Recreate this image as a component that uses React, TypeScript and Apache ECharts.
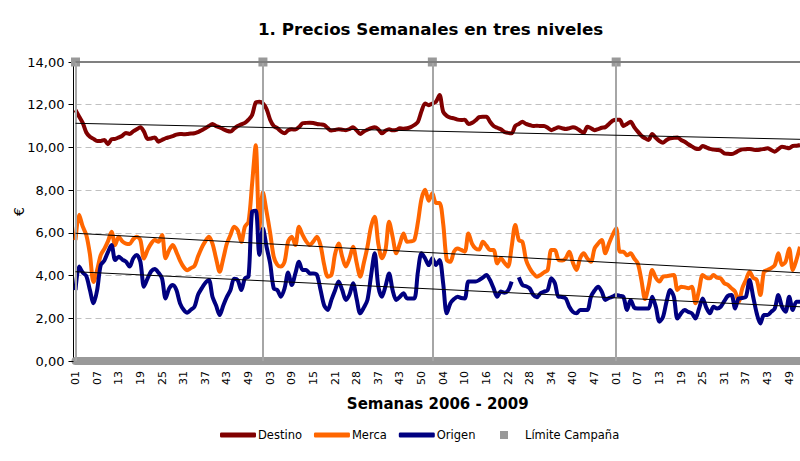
import React, { useEffect, useRef } from "react";
import * as echarts from "echarts";

// ---- Weeks present in each year (some weeks missing in 2007/2008) ----
const weeks2006 = [1,2,3,4,5,6,7,8,9,10,11,12,13,14,15,16,17,18,19,20,21,22,23,24,25,26,27,28,29,30,31,32,33,34,35,36,37,38,39,40,41,42,43,44,45,46,47,48,49,50,51,52];
const weeks2007 = [1,2,3,4,5,6,7,8,9,10,11,12,13,14,15,16,17,18,19,20,21,23,24,25,26,27,28,29,30,31,35,36,37,38,39,40,41,42,43,44,45,46,48,49,50,51,52];
const weeks2008 = [1,2,3,4,5,6,7,8,9,10,11,12,13,14,15,16,17,18,19,20,21,22,23,24,25,26,27,28,29,30,31,32,33,34,35,36,37,38,39,40,41,42,43,45,46,47,48,49,50,51,52];
const weeks2009 = [1,2,3,4,5,6,7,8,9,10,11,12,13,14,15,16,17,18,19,20,21,22,23,24,25,26,27,28,29,30,31,32,33,34,35,36,37,38,39,40,41,42,43,44,45,46,47,48,49,50,51,52];
const years = [2006, 2007, 2008, 2009];
const campaignLimits = ["2006-01", "2007-01", "2008-01", "2009-01"];
const limitValue = 14;

const destino = [
  11.75, 11.45, 11.15, 10.7, 10.5, 10.4, 10.3, 10.3, 10.35, 10.15,
  10.38, 10.4, 10.47, 10.55, 10.68, 10.63, 10.75, 10.85, 10.94, 10.74,
  10.4, 10.42, 10.47, 10.27, 10.35, 10.43, 10.48, 10.53, 10.6, 10.63,
  10.62, 10.63, 10.65, 10.66, 10.72, 10.8, 10.9, 11.0, 11.1, 11.0,
  10.94, 10.85, 10.78, 10.74, 10.88, 11.0, 11.08, 11.15, 11.3, 11.52,
  12.1, 12.14, 12.06, 11.8, 11.3, 11.0, 10.9, 10.75, 10.66, 10.8,
  10.85, 10.84, 10.95, 11.13, 11.15, 11.16, 11.14, 11.1, 11.08, 11.05,
  10.9, 10.79, 10.82, 10.85, 10.83, 10.81, 10.86, 10.94, 10.8, 10.63,
  10.75, 10.83, 10.9, 10.94, 10.85, 10.66, 10.78, 10.85, 10.8, 10.82,
  10.9, 10.88, 10.9, 10.95, 11.05, 11.2, 11.7, 12.06, 11.98, 12.05,
  12.14, 12.45, 11.67, 11.48, 11.4, 11.36, 11.3, 11.28, 11.3, 11.1,
  11.15, 11.27, 11.42, 11.44, 11.44, 11.2, 11.0, 10.92, 10.85, 10.72,
  10.68, 10.66, 11.0, 11.1, 11.2, 11.1, 11.05, 11.0, 11.02, 11.0,
  11.0, 10.92, 10.81, 10.88, 10.94, 10.9, 10.86, 10.9, 10.94, 10.9,
  10.78, 10.69, 10.97, 10.9, 10.81, 10.86, 10.92, 10.95, 11.1, 11.25,
  11.3, 11.3, 11.0, 11.1, 11.2, 10.95, 10.74, 10.55, 10.43, 10.35,
  10.63, 10.45, 10.3, 10.22, 10.35, 10.43, 10.45, 10.47, 10.35, 10.27,
  10.15, 10.05, 9.95, 9.93, 10.07, 10.0, 9.93, 9.9, 9.88, 9.85,
  9.72, 9.7, 9.69, 9.75, 9.85, 9.91, 9.92, 9.93, 9.9, 9.88,
  9.9, 9.93, 9.96, 9.88, 9.8, 9.92, 10.03, 10.0, 9.96, 10.07,
  10.08, 10.11,
];

const merca = [
  5.66, 6.85, 6.3, 5.9, 5.0, 3.7, 4.26, 4.96, 5.25, 5.6,
  6.05, 5.43, 5.82, 5.6, 5.5, 5.48, 5.7, 5.82, 5.66, 4.8,
  5.2, 5.5, 5.66, 5.58, 5.9, 4.81, 5.2, 5.43, 5.1, 4.7,
  4.4, 4.25, 4.35, 4.45, 4.9, 5.3, 5.6, 5.82, 5.5, 4.8,
  4.18, 4.8, 5.5, 5.9, 6.29, 6.13, 5.58, 6.29, 6.52, 8.3,
  10.1, 6.2, 7.9, 7.0, 6.0, 4.88, 4.5, 4.42, 4.65, 5.6,
  5.82, 5.43, 6.29, 5.9, 5.6, 5.43, 5.6, 5.82, 5.4, 4.5,
  3.95, 4.03, 5.0, 5.5, 4.88, 4.42, 4.8, 5.35, 4.6, 3.95,
  4.6, 5.35, 6.3, 6.76, 5.5, 4.81, 5.2, 6.52, 5.8, 5.04,
  5.5, 5.97, 5.58, 5.6, 5.66, 6.5, 7.6, 8.02, 7.5, 7.85,
  7.4, 7.4, 6.44, 4.73, 4.65, 5.12, 5.27, 5.2, 5.12, 5.97,
  5.5, 5.27, 5.22, 5.58, 5.4, 5.2, 5.2, 4.57, 4.81, 4.6,
  4.42, 5.35, 6.37, 5.66, 5.58, 4.73, 4.34, 4.1, 3.95, 4.03,
  4.15, 4.26, 5.2, 5.2, 4.73, 4.7, 4.81, 5.12, 4.6, 4.26,
  4.81, 5.04, 4.8, 4.65, 5.27, 5.5, 5.66, 5.04, 5.5, 5.9,
  6.21, 5.12, 5.12, 4.95, 5.04, 4.8, 4.57, 3.79, 2.9, 3.5,
  4.26, 3.9, 3.72, 3.95, 3.97, 4.0, 4.03, 3.33, 3.48, 3.45,
  3.41, 3.48, 2.7, 3.33, 4.03, 3.9, 3.87, 4.03, 3.9, 3.87,
  3.64, 3.56, 3.4, 3.25, 2.78, 3.41, 3.79, 4.18, 3.9, 3.79,
  3.09, 4.18, 4.26, 4.35, 4.49, 5.04, 4.49, 4.65, 5.27, 4.26,
  4.73, 5.35,
];

const origen = [
  3.32, 4.42, 4.14, 3.98, 3.32, 2.7, 3.32, 4.49, 4.7, 5.1,
  5.43, 4.73, 4.88, 4.75, 4.65, 4.42, 4.8, 4.96, 4.65, 3.48,
  3.87, 4.2, 4.31, 4.14, 3.87, 2.93, 3.4, 3.56, 3.32, 2.7,
  2.4, 2.26, 2.4, 2.54, 3.1, 3.4, 3.65, 3.79, 3.01, 2.6,
  2.15, 2.6, 3.0, 3.32, 3.85, 3.79, 3.32, 3.87, 3.95, 7.0,
  7.04, 4.96, 6.21, 5.35, 4.57, 3.4, 3.32, 3.01, 3.4, 4.14,
  3.56, 4.1, 4.65, 4.26, 4.26, 4.1, 4.1, 4.03, 3.32, 2.6,
  2.39, 2.86, 3.3, 3.72, 3.32, 2.86, 3.1, 3.64, 2.9, 2.23,
  2.5, 2.86, 4.0, 5.04, 3.5, 3.01, 3.5, 4.1, 3.3, 2.86,
  3.01, 3.17, 2.93, 2.93, 2.93, 4.18, 5.04, 4.8, 4.49, 4.81,
  4.5, 4.73, 3.64, 2.23, 2.7, 2.9, 3.01, 2.95, 2.93, 3.72,
  3.72, 3.72, 3.79, 3.9, 4.03, 3.79, 3.4, 3.01, 3.25, 3.2,
  3.3, 3.72, null, 3.92, 3.56, 3.5, 3.4, 3.1, 2.98, 3.17,
  3.25, 3.32, 3.87, 3.64, 3.01, 3.0, 2.93, 2.54, 2.3, 2.23,
  2.39, 2.39, 2.39, 3.01, 3.3, 3.48, 3.25, 2.86, 2.95, 3.01,
  3.09, 3.05, 3.01, 2.39, 2.86, 2.5, 2.46, 2.46, 2.46, 2.46,
  3.01, 2.54, 1.84, 2.07, 2.8, 3.32, 3.01, 1.99, 2.23, 2.39,
  2.3, 2.23, 1.99, 2.46, 2.93, 2.5, 2.23, 2.54, 2.46, 2.54,
  2.8, 3.05, 3.09, 2.46, 2.93, 2.95, 3.01, 3.79, 3.01, 2.23,
  1.76, 2.15, 2.15, 2.3, 2.46, 3.09, 2.54, 2.31, 3.01, 2.39,
  2.78, 2.78,
];

// Linear trend lines (start, end)
const trendDestino = [11.13, 10.38];
const trendMerca = [5.98, 4.13];
const trendOrigen = [4.18, 2.54];

const yTicks = { min: 0, max: 14, interval: 2 };

const pad = (n: number) => (n < 10 ? "0" + n : String(n));
const categories: string[] = [];
[weeks2006, weeks2007, weeks2008, weeks2009].forEach((ws, yi) => {
  ws.forEach((w) => categories.push(years[yi] + "-" + pad(w)));
});

export default function App() {
  const ref = useRef<HTMLDivElement>(null);
  useEffect(() => {
    if (!ref.current) return;
    const chart = echarts.init(ref.current, null, { renderer: "svg" });
    const last = categories.length - 1;
    const limitIdx = campaignLimits.map((c) => categories.indexOf(c));
    const font = "DejaVu Sans";
    const trend = (t: number[]) => ({
      type: "line",
      data: [[0, t[0]], [last, t[1]]],
      symbol: "none",
      silent: true,
      lineStyle: { color: "#000", width: 1 },
      z: 5,
    });
    chart.setOption({
      animation: false,
      textStyle: { fontFamily: font },
      title: {
        text: "1. Precios Semanales en tres niveles",
        left: 253,
        top: 15,
        padding: 5,
        textStyle: { fontFamily: font, fontSize: 16.7, fontWeight: "bold", color: "#000" },
      },
      legend: [
        {
          data: ["Destino", "Merca", "Origen"],
          left: 220,
          top: 429,
          padding: 0,
          itemWidth: 36,
          itemHeight: 5,
          itemGap: 12,
          icon: "roundRect",
          textStyle: { fontFamily: font, fontSize: 11.5, color: "#000", padding: [0, 0, 0, -3] },
        },
        {
          data: ["Límite Campaña"],
          left: 500,
          top: 429,
          padding: 0,
          itemWidth: 8,
          itemHeight: 8,
          icon: "rect",
          textStyle: { fontFamily: font, fontSize: 11.5, color: "#000", padding: [0, 0, 0, 12] },
        },
      ],
      grid: { left: 75.5, right: 0, top: 62, bottom: 100, outerBoundsMode: "none", containLabel: false },
      xAxis: {
        type: "category",
        data: categories,
        boundaryGap: false,
        name: "Semanas 2006 - 2009",
        nameLocation: "middle",
        nameGap: 35,
        nameMoveOverlap: false,
        nameTextStyle: { fontFamily: font, fontSize: 15, fontWeight: "bold", color: "#000" },
        axisLine: { lineStyle: { color: "#999", width: 8 } },
        axisTick: { show: false },
        axisLabel: {
          interval: 5,
          rotate: 90,
          margin: 10,
          fontSize: 11,
          color: "#000",
          fontFamily: font,
          formatter: (v: string) => v.slice(5),
        },
        splitLine: { show: false },
      },
      yAxis: {
        type: "value",
        min: yTicks.min,
        max: yTicks.max,
        interval: yTicks.interval,
        offset: 2,
        name: "€",
        nameLocation: "middle",
        nameGap: 48,
        nameMoveOverlap: false,
        nameTextStyle: { fontFamily: font, fontSize: 14, color: "#000" },
        axisLine: { show: true, lineStyle: { color: "#000", width: 1 } },
        axisTick: { show: true, length: 5, lineStyle: { color: "#000" } },
        axisLabel: {
          fontSize: 13,
          color: "#000",
          fontFamily: font,
          margin: 9,
          formatter: (v: number) => v.toFixed(2).replace(".", ","),
        },
        splitLine: { show: true, lineStyle: { color: "#c0c0c0", type: [6, 4], width: 1 } },
      },
      series: [
        {
          name: "Límite Campaña",
          type: "line",
          data: limitIdx.map((i) => [i, limitValue]),
          symbol: "rect",
          symbolSize: 9,
          showAllSymbol: true,
          itemStyle: { color: "#999" },
          lineStyle: { width: 0, opacity: 0 },
          z: 1,
          markLine: {
            silent: true,
            symbol: ["none", "none"],
            label: { show: false },
            data: [
              ...limitIdx.map((i) => ({ xAxis: i, lineStyle: { color: "#a6a6a6", width: 2, type: "solid" } })),
              { yAxis: limitValue, lineStyle: { color: "#808080", width: 2, type: "solid" } },
            ],
          },
        },
        {
          name: "Destino",
          type: "line",
          data: destino,
          symbol: "none",
          smooth: 0.3,
          lineStyle: { color: "#800000", width: 4 },
          itemStyle: { color: "#800000" },
          z: 3,
        },
        {
          name: "Merca",
          type: "line",
          data: merca,
          symbol: "none",
          smooth: 0.3,
          lineStyle: { color: "#ff6600", width: 4 },
          itemStyle: { color: "#ff6600" },
          z: 3,
        },
        {
          name: "Origen",
          type: "line",
          data: origen,
          symbol: "none",
          smooth: 0.3,
          lineStyle: { color: "#000080", width: 4 },
          itemStyle: { color: "#000080" },
          z: 3,
        },
        trend(trendDestino),
        trend(trendMerca),
        trend(trendOrigen),
      ],
    });
    return () => chart.dispose();
  }, []);
  return (
    <div
      ref={ref}
      style={{ position: "fixed", left: 0, top: 0, width: 800, height: 461, background: "#fff" }}
    />
  );
}
